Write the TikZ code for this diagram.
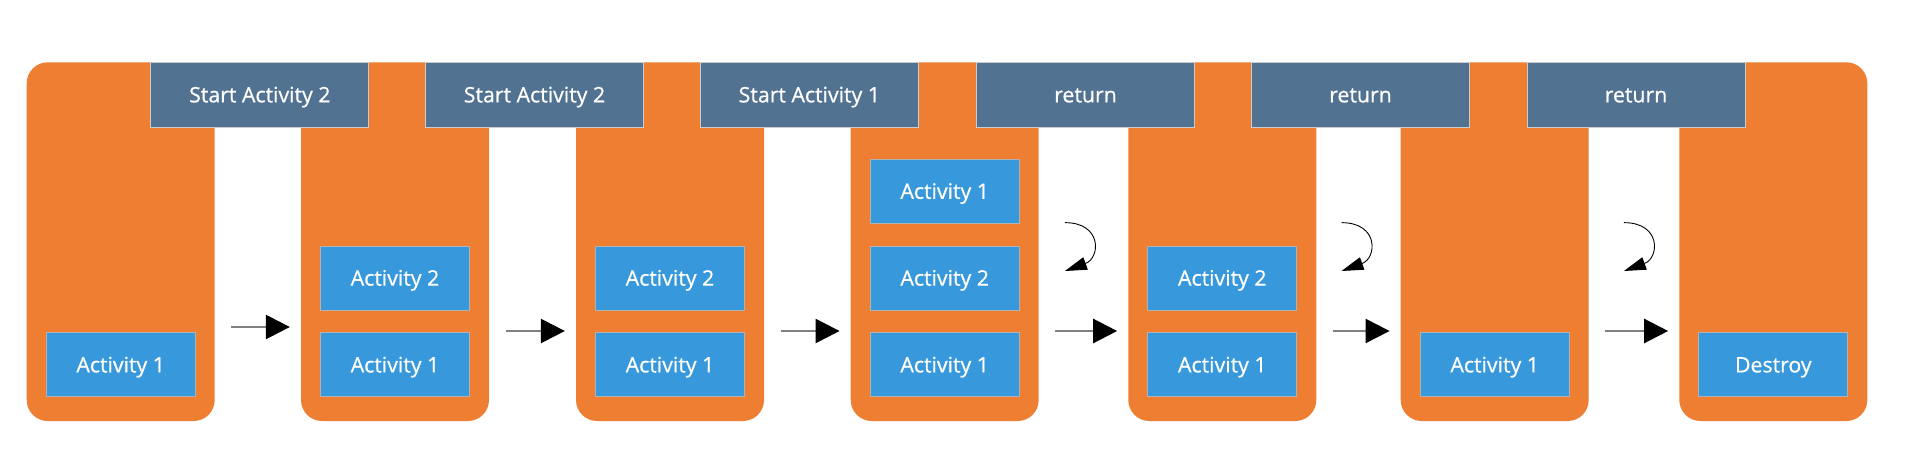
\documentclass[tikz,border=0pt]{standalone}
\usepackage{fontspec}
\setmainfont{Open Sans}[FakeBold=0.7]
\usetikzlibrary{positioning,calc,arrows.meta}
\definecolor{stackorange}{RGB}{238,126,50}
\definecolor{intentblue}{RGB}{81,114,145}
\definecolor{actblue}{RGB}{55,152,219}

\begin{document}
\begin{tikzpicture}[x=1pt,y=1pt,
  stack/.style={fill=stackorange, rounded corners=21pt, minimum width=188pt, minimum height=358.7pt, inner sep=0pt},
  act/.style={fill=actblue, draw=black!30, line width=0.8pt, text=white, minimum width=149pt, minimum height=64pt, inner sep=0pt, text height=15.2pt, text depth=0pt, font=\fontsize{21.3}{24}\selectfont},
  intent/.style={fill=intentblue, draw=black!20, line width=0.8pt, text=white, minimum width=218pt, minimum height=64.5pt, inner sep=0pt, text height=15.2pt, text depth=0pt, font=\fontsize{21.3}{24}\selectfont},
  go/.style={draw=black!50, line width=1.2pt, -{Triangle[length=24pt,width=24.4pt,color=black]}},
  back/.style={draw=black, line width=0.9pt, -{Triangle[length=22pt,width=13pt]}}]
\useasboundingbox (0,0) rectangle (1908,474);

\foreach \x [count=\i from 0] in {120.7,395,670,944.7,1222.3,1494.7,1773.3}
  \node[stack] (s\i) at (\x,232.35) {};

\foreach \t [count=\i from 0] in {Start Activity 2,Start Activity 2,Start Activity 1,return,return,return}{
  \pgfmathtruncatemacro\j{\i+1}
  \node[intent, anchor=north] (l\i) at ($(s\i.north)!0.5!(s\j.north)+(2,0)$) {\t};
}

\foreach \n [count=\i from 0] in {Activity 1,Activity 1,Activity 1,Activity 1,Activity 1,Activity 1,Destroy}
  \node[act, above=24pt of s\i.south] (a\i) {\n};
\foreach \i in {1,...,4}
  \node[act, above=22pt of a\i] (b\i) {Activity 2};
\node[act, above=22pt of b3] (c3) {Activity 1};

\foreach \i/\j/\h in {0/1/-85.35,1/2/-89.35,2/3/-89.35,3/4/-89.35,4/5/-89.35,5/6/-89.35}
  \draw[go] ([xshift=16.5pt,yshift=\h pt]s\i.east) -- ([xshift=-11pt,yshift=\h pt]s\j.west);

%\draw[back] (1065,251.3) arc (90:-60:25);
\foreach \i/\d in {3/26,4/25,5/35}
  \draw[back] ([xshift=\d pt,yshift=19pt]s\i.east) to[out=0,in=20,looseness=2] ([xshift=\d pt,yshift=-29.35pt]s\i.east);
\end{tikzpicture}
\end{document}
